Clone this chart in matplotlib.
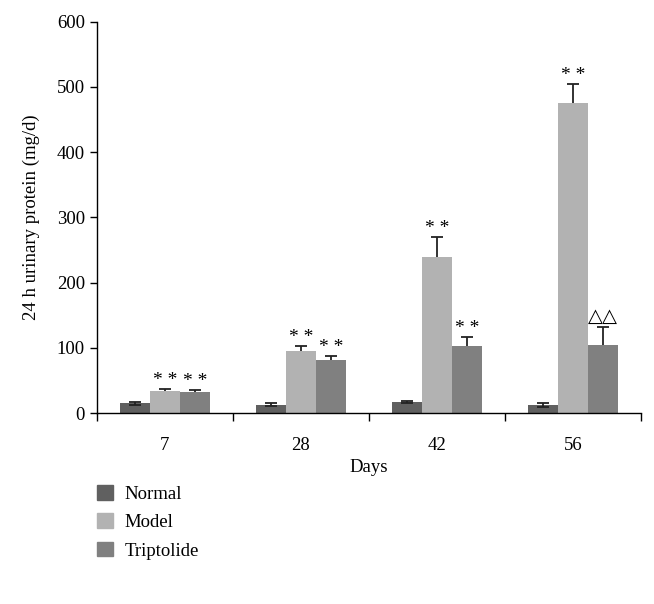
import numpy as np
import matplotlib
matplotlib.use('Agg')
import matplotlib.pyplot as plt
from matplotlib.patches import Patch

plt.rcParams['font.family'] = ['Liberation Serif', 'DejaVu Serif']

# data
days = ['7', '28', '42', '56']
groups = ['Normal', 'Model', 'Triptolide']
normal = [15, 13, 17, 13]
normal_err = [2, 2, 2, 3]
model = [34, 95, 239, 475]
model_err = [3, 8, 31, 30]
tript = [33, 82, 103, 104]
tript_err = [3, 6, 14, 28]
model_marks = ['* *', '* *', '* *', '* *']
tript_marks = ['* *', '* *', '* *', '\u25b3\u25b3']

colors = ['#606060', '#b2b2b2', '#808080']

fig = plt.figure(figsize=(6.54, 6.04), dpi=100)
ax = fig.add_axes([0.148, 0.316, 0.832, 0.648])

x = np.arange(len(days))
w = 0.22
series = [(normal, normal_err), (model, model_err), (tript, tript_err)]
for i, (vals, errs) in enumerate(series):
    pos = x + (i - 1) * w
    ax.bar(pos, vals, w, color=colors[i], label=groups[i], zorder=2)
    if i == 0:
        ax.errorbar(pos, vals, yerr=errs, fmt='none', ecolor='#222222',
                    elinewidth=1.3, capsize=4, capthick=1.3, zorder=3)
    else:
        eb = ax.errorbar(pos, vals, yerr=[np.zeros(len(vals)), errs], fmt='none',
                         ecolor='#222222', elinewidth=1.3, capsize=4, capthick=1.3, zorder=3)
        eb[1][0].set_visible(False)  # hide lower cap

for j in range(len(days)):
    ax.text(x[j], model[j] + model_err[j], model_marks[j], ha='center', va='bottom',
            fontsize=14)
    if tript_marks[j] == '* *':
        ax.text(x[j] + w, tript[j] + tript_err[j], tript_marks[j], ha='center',
                va='bottom', fontsize=14)
    else:
        ax.text(x[j] + w, tript[j] + tript_err[j] + 2, tript_marks[j], ha='center',
                va='bottom', fontsize=14, family=['DejaVu Sans'])

ax.set_ylim(0, 600)
ax.set_yticks(range(0, 601, 100))
ax.set_xlim(-0.5, len(days) - 0.5)
ax.set_xticks(np.arange(len(days) + 1) - 0.5)
ax.set_xticklabels([])
ax.set_xticks(x, minor=True)
ax.set_xticklabels(days, minor=True)
ax.tick_params(axis='x', which='minor', length=0, labelsize=13.5, pad=17)
ax.tick_params(axis='x', which='major', length=6, width=1)
ax.tick_params(axis='y', labelsize=13.5, length=5, width=1)
for s in ['top', 'right']:
    ax.spines[s].set_visible(False)
ax.spines['left'].set_linewidth(1)
ax.spines['bottom'].set_linewidth(1)

ax.set_ylabel('24 h urinary protein (mg/d)', fontsize=13.5, labelpad=12)
ax.set_xlabel('Days', fontsize=13.5, labelpad=4)

handles = [Patch(color=c) for c in colors]
fig.legend(handles, groups, loc='upper left', bbox_to_anchor=(0.122, 0.225),
           frameon=False, fontsize=13.5, handlelength=0.85, handleheight=0.85,
           handletextpad=0.65, labelspacing=0.55)

fig.savefig('out.png', dpi=100)
